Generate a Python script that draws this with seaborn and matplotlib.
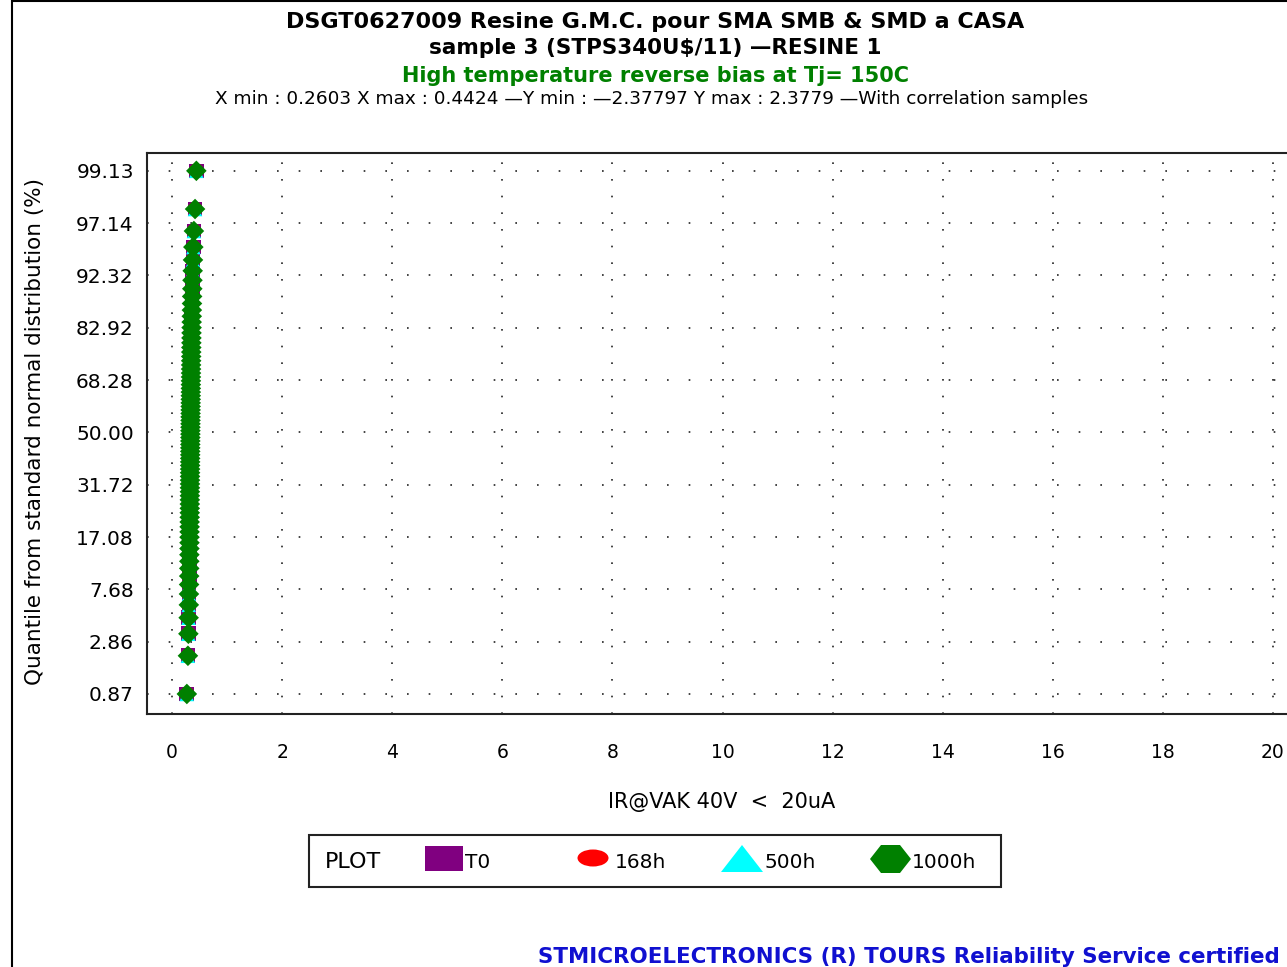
from statistics import NormalDist

import matplotlib.pyplot as plt
import numpy as np
import pandas as pd
import seaborn as sns
from matplotlib.lines import Line2D
from matplotlib.patches import Ellipse, Polygon, Rectangle

# ---------------------------------------------------------------------------
# Data: IR@VAK 40V (uA) per readout, sorted
# ---------------------------------------------------------------------------

t0 = [0.2603, 0.2890, 0.2985, 0.3030, 0.3062, 0.3088, 0.3105, 0.3120, 0.3133, 0.3145,
      0.3156, 0.3166, 0.3175, 0.3183, 0.3191, 0.3199, 0.3206, 0.3213, 0.3220, 0.3226,
      0.3232, 0.3238, 0.3244, 0.3250, 0.3256, 0.3261, 0.3267, 0.3272, 0.3278, 0.3283,
      0.3288, 0.3294, 0.3299, 0.3304, 0.3309, 0.3315, 0.3320, 0.3325, 0.3330, 0.3336,
      0.3341, 0.3346, 0.3352, 0.3357, 0.3363, 0.3368, 0.3374, 0.3380, 0.3386, 0.3392,
      0.3398, 0.3404, 0.3411, 0.3418, 0.3425, 0.3432, 0.3440, 0.3448, 0.3456, 0.3465,
      0.3474, 0.3484, 0.3494, 0.3505, 0.3517, 0.3530, 0.3544, 0.3560, 0.3577, 0.3596,
      0.3618, 0.3643, 0.3672, 0.3706, 0.3748, 0.3801, 0.3870, 0.3975, 0.4190, 0.4424]

h168 = [0.2715, 0.2902, 0.2978, 0.3024, 0.3058, 0.3081, 0.3101, 0.3117, 0.3131, 0.3143,
        0.3154, 0.3164, 0.3173, 0.3182, 0.3190, 0.3198, 0.3205, 0.3212, 0.3219, 0.3225,
        0.3231, 0.3237, 0.3243, 0.3249, 0.3255, 0.3260, 0.3266, 0.3271, 0.3277, 0.3282,
        0.3287, 0.3293, 0.3298, 0.3303, 0.3308, 0.3314, 0.3319, 0.3324, 0.3330, 0.3335,
        0.3340, 0.3346, 0.3351, 0.3357, 0.3362, 0.3368, 0.3373, 0.3379, 0.3385, 0.3391,
        0.3397, 0.3403, 0.3410, 0.3417, 0.3424, 0.3431, 0.3439, 0.3447, 0.3455, 0.3464,
        0.3473, 0.3483, 0.3493, 0.3504, 0.3516, 0.3529, 0.3543, 0.3558, 0.3575, 0.3594,
        0.3615, 0.3640, 0.3668, 0.3702, 0.3743, 0.3795, 0.3862, 0.3962, 0.4165, 0.4398]

h500 = [0.2668, 0.2871, 0.2952, 0.3001, 0.3036, 0.3062, 0.3083, 0.3100, 0.3115, 0.3128,
        0.3140, 0.3151, 0.3161, 0.3170, 0.3179, 0.3187, 0.3195, 0.3202, 0.3209, 0.3216,
        0.3222, 0.3229, 0.3235, 0.3241, 0.3247, 0.3253, 0.3259, 0.3265, 0.3271, 0.3277,
        0.3283, 0.3289, 0.3295, 0.3301, 0.3306, 0.3312, 0.3318, 0.3324, 0.3330, 0.3336,
        0.3342, 0.3348, 0.3354, 0.3360, 0.3366, 0.3372, 0.3378, 0.3384, 0.3391, 0.3397,
        0.3404, 0.3411, 0.3418, 0.3425, 0.3432, 0.3440, 0.3448, 0.3456, 0.3465, 0.3474,
        0.3484, 0.3494, 0.3505, 0.3516, 0.3528, 0.3541, 0.3555, 0.3570, 0.3587, 0.3606,
        0.3627, 0.3651, 0.3679, 0.3712, 0.3752, 0.3803, 0.3868, 0.3966, 0.4172, 0.4410]

h1000 = [0.2690, 0.2884, 0.2968, 0.3015, 0.3049, 0.3074, 0.3094, 0.3111, 0.3125, 0.3138,
         0.3149, 0.3159, 0.3168, 0.3177, 0.3185, 0.3193, 0.3200, 0.3207, 0.3214, 0.3221,
         0.3227, 0.3233, 0.3239, 0.3245, 0.3251, 0.3257, 0.3263, 0.3268, 0.3274, 0.3280,
         0.3285, 0.3291, 0.3296, 0.3302, 0.3307, 0.3313, 0.3318, 0.3324, 0.3329, 0.3335,
         0.3340, 0.3346, 0.3351, 0.3357, 0.3363, 0.3369, 0.3375, 0.3381, 0.3387, 0.3393,
         0.3400, 0.3406, 0.3413, 0.3420, 0.3427, 0.3435, 0.3443, 0.3451, 0.3460, 0.3469,
         0.3479, 0.3489, 0.3500, 0.3511, 0.3523, 0.3536, 0.3550, 0.3566, 0.3583, 0.3602,
         0.3623, 0.3647, 0.3676, 0.3709, 0.3750, 0.3802, 0.3868, 0.3970, 0.4180, 0.4415]

readouts = ["T0", "168h", "500h", "1000h"]
colors = {"T0": "#800080", "168h": "#FF0000", "500h": "#00FFFF", "1000h": "#008000"}
markers = {"T0": "s", "168h": "o", "500h": "^", "1000h": "D"}

ytick_pct = [0.87, 2.86, 7.68, 17.08, 31.72, 50.00, 68.28, 82.92, 92.32, 97.14, 99.13]
xticks = [0, 2, 4, 6, 8, 10, 12, 14, 16, 18, 20]

# ---------------------------------------------------------------------------
# Normal probability plot positions (median ranks)
# ---------------------------------------------------------------------------

nd = NormalDist()
rows = []
for name, vals in zip(readouts, [t0, h168, h500, h1000]):
    n = len(vals)
    for i, v in enumerate(sorted(vals), start=1):
        rows.append({"readout": name, "ir": v,
                     "z": nd.inv_cdf((i - 0.3) / (n + 0.4))})
df = pd.DataFrame(rows)

# ---------------------------------------------------------------------------
# Figure
# ---------------------------------------------------------------------------

sns.set_style("white")
plt.rcParams["font.family"] = ["DejaVu Sans"]
plt.rcParams["text.color"] = "black"
plt.rcParams["axes.labelcolor"] = "black"
plt.rcParams["xtick.color"] = "black"
plt.rcParams["ytick.color"] = "black"

W, H = 1287, 967
fig = plt.figure(figsize=(W / 100, H / 100), dpi=100)


def px(x, y):
    return x / W, 1 - y / H


ax = fig.add_axes([147 / W, 1 - 714 / H, 1153.5 / W, 561 / H])

# grid (dotted)
for z in [nd.inv_cdf(p / 100) for p in ytick_pct]:
    ax.axhline(z, color="#222222", lw=1.2, ls=(0, (1, 12)), zorder=0)
for x in xticks:
    ax.axvline(x, color="#222222", lw=1.2, ls=(0, (1, 9)), zorder=0)

sns.scatterplot(data=df, x="ir", y="z", hue="readout", style="readout",
                palette=colors, markers=markers, hue_order=readouts,
                style_order=readouts, s=110, linewidth=0, legend=False,
                ax=ax, zorder=3)

ax.set_xlim(-0.455, 20.5)
ax.set_ylim(-2.56, 2.54)
ax.set_xticks(xticks)
ax.set_xticklabels([str(x) for x in xticks])
ax.set_yticks([nd.inv_cdf(p / 100) for p in ytick_pct])
ax.set_yticklabels([f"{p:.2f}" for p in ytick_pct])
ax.tick_params(axis="both", direction="out", length=7, width=1.3, color="black")
ax.tick_params(axis="x", pad=14, labelsize=13.5)
ax.tick_params(axis="y", pad=2.5, labelsize=14.5)
for sp in ax.spines.values():
    sp.set_color("#222222")
    sp.set_linewidth(1.5)

ax.set_xlabel("IR@VAK 40V  <  20uA", fontsize=15)
ax.xaxis.set_label_coords(0.4985, -0.139)
ax.set_ylabel("Quantile from standard normal distribution (%)", fontsize=15.5)
ax.yaxis.set_label_coords(-0.088, 0.503)

# titles
tx = 655 / W
fig.text(tx, 1 - 22 / H, "DSGT0627009 Resine G.M.C. pour SMA SMB & SMD a CASA",
         ha="center", va="center", fontsize=16, fontweight="bold")
fig.text(tx, 1 - 48 / H, "sample 3 (STPS340U$/11) \u2014RESINE 1",
         ha="center", va="center", fontsize=15.5, fontweight="bold")
fig.text(tx, 1 - 76 / H, "High temperature reverse bias at Tj= 150C",
         ha="center", va="center", fontsize=15, fontweight="bold", color="#008000")
fig.text(652 / W, 1 - 99 / H,
         "X min : 0.2603 X max : 0.4424 \u2014Y min : \u20142.37797 Y max : 2.3779 "
         "\u2014With correlation samples",
         ha="center", va="center", fontsize=13.3)

# legend box
lfs = 14.5
fig.add_artist(Rectangle(px(309, 887), 692 / W, 52 / H, transform=fig.transFigure,
                         fill=False, edgecolor="#222222", lw=1.5))
fig.text(*px(325, 862), "PLOT", ha="left", va="center", fontsize=16)
fig.add_artist(Rectangle(px(425, 871), 38 / W, 25 / H, transform=fig.transFigure,
                         facecolor=colors["T0"], edgecolor="none"))
fig.text(*px(465, 862), "T0", ha="left", va="center", fontsize=lfs)
fig.add_artist(Ellipse(px(593, 858), 31 / W, 17 / H, transform=fig.transFigure,
                       facecolor=colors["168h"], edgecolor="none"))
fig.text(*px(615, 862), "168h", ha="left", va="center", fontsize=lfs)
fig.add_artist(Polygon([px(721, 872), px(742, 845), px(763, 872)], closed=True,
                       transform=fig.transFigure, facecolor=colors["500h"],
                       edgecolor="none"))
fig.text(*px(764, 862), "500h", ha="left", va="center", fontsize=lfs)
fig.add_artist(Polygon([px(870, 859), px(881, 845), px(900, 845), px(911, 859),
                        px(900, 873), px(881, 873)], closed=True,
                       transform=fig.transFigure, facecolor=colors["1000h"],
                       edgecolor="none"))
fig.text(*px(912, 862), "1000h", ha="left", va="center", fontsize=lfs)

# footer
fig.text(*px(538, 957), "STMICROELECTRONICS (R) TOURS Reliability Service certified",
         ha="left", va="center", fontsize=15.4, fontweight="bold", color="#1010D0")

# page frame
fig.add_artist(Line2D([12 / W, 12 / W], [0, 1], transform=fig.transFigure,
                      color="black", lw=1.5))
fig.add_artist(Line2D([12 / W, 1], [1 - 1 / H, 1 - 1 / H], transform=fig.transFigure,
                      color="black", lw=1.5))

fig.savefig("out.png", dpi=100)
